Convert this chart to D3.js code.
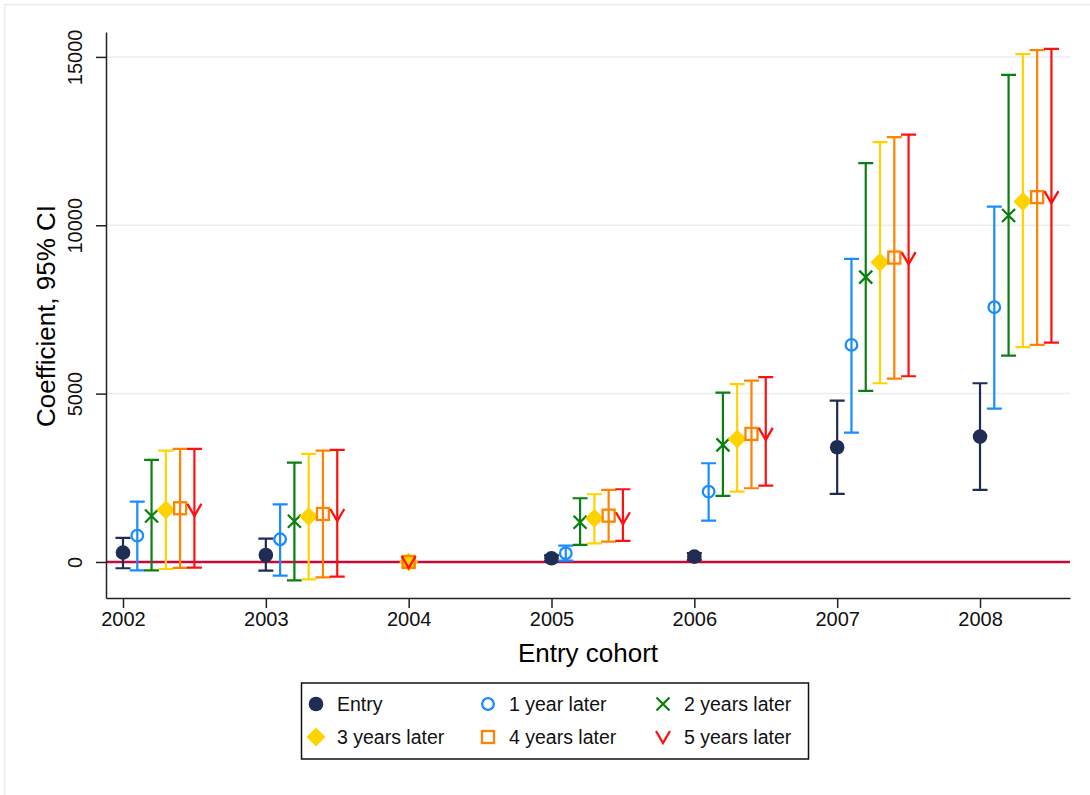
<!DOCTYPE html>
<html lang="en">
<head>
  <meta charset="UTF-8">
  <title>Entry cohort coefficients</title>
  <script src="https://d3js.org/d3.v7.min.js"></script>
  <style>
    body { margin: 0; background: white; }
    svg { font-family: "Liberation Sans", Arial, sans-serif; }
    .grid line { stroke: #e7eff1; stroke-width: 1.5px; }
    .axis path, .axis line { stroke: #222; stroke-width: 1.5px; }
    .axis text { fill: #111; font-size: 20px; font-family: "Liberation Sans", Arial, sans-serif; }
  </style>
</head>
<body>
  <svg width="1090" height="795"></svg>

  <script>
    // cohorts on the x axis
    var years = [2002, 2003, 2004, 2005, 2006, 2007, 2008];
    var baseYear = 2004;

    var seriesNames = ["Entry", "1 year later", "2 years later", "3 years later", "4 years later", "5 years later"];

    // point estimates and 95% CI
    var entryEst = [277, 208, 0, 109, 158, 3407, 3724];
    var entryLo  = [-187, -257, 0, 20, 60, 2020, 2139];
    var entryHi  = [713, 693, 0, 200, 260, 4793, 5308];

    var yr1Est = [782, 673, 0, 258, 2089, 6447, 7567];
    var yr1Lo  = [-247, -406, 0, 40, 1227, 3843, 4555];
    var yr1Hi  = [1792, 1713, 0, 485, 2932, 9002, 10556];

    var yr2Est = [1367, 1208, 0, 1179, 3476, 8458, 10289];
    var yr2Lo  = [-247, -545, 0, 505, 1961, 5080, 6129];
    var yr2Hi  = [3030, 2951, 0, 1892, 5030, 11845, 14469];

    var yr3Est = [1545, 1347, 0, 1298, 3654, 8904, 10705];
    var yr3Lo  = [-208, -515, 0, 555, 2089, 5308, 6379];
    var yr3Hi  = [3307, 3208, 0, 2011, 5280, 12469, 15083];

    var yr4Est = [1595, 1426, 0, 1376, 3803, 9041, 10835];
    var yr4Lo  = [-178, -455, 0, 604, 2190, 5447, 6447];
    var yr4Hi  = [3357, 3307, 0, 2139, 5386, 12618, 15202];

    var yr5Est = [1545, 1396, 0, 1298, 3803, 9023, 10835];
    var yr5Lo  = [-168, -435, 0, 624, 2267, 5516, 6515];
    var yr5Hi  = [3357, 3327, 0, 2160, 5487, 12695, 15241];

    var yTicks = [0, 5000, 10000, 15000];

    var colors = ["#1f2d54", "#1a8cff", "#0b8012", "#ffd300", "#ff8200", "#ff1010"];
    var shapes = ["dot", "circle", "x", "diamond", "square", "v"];
    var offsets = [0, 0.1, 0.2, 0.3, 0.4, 0.5];

    var series = [
      { est: entryEst, lo: entryLo, hi: entryHi },
      { est: yr1Est, lo: yr1Lo, hi: yr1Hi },
      { est: yr2Est, lo: yr2Lo, hi: yr2Hi },
      { est: yr3Est, lo: yr3Lo, hi: yr3Hi },
      { est: yr4Est, lo: yr4Lo, hi: yr4Hi },
      { est: yr5Est, lo: yr5Lo, hi: yr5Hi }
    ];

    var svg = d3.select("svg");

    // light outer frame of the graph region
    svg.append("rect")
      .attr("x", 4.5).attr("y", 4.5)
      .attr("width", 1100).attr("height", 800)
      .attr("fill", "white")
      .attr("stroke", "#e6edf0")
      .attr("stroke-width", 1.5);

    var plotLeft = 106, plotRight = 1070, plotTop = 32, plotBottom = 598;

    var x = d3.scaleLinear().domain([2001.881, 2008.63]).range([plotLeft, plotRight]);
    var y = d3.scaleLinear().domain([-1070, 15740]).range([plotBottom, plotTop]);

    // grid lines
    svg.append("g").attr("class", "grid")
      .selectAll("line")
      .data(yTicks.filter(function (d) { return d > 0; }))
      .enter().append("line")
      .attr("x1", plotLeft).attr("x2", plotRight)
      .attr("y1", function (d) { return y(d); })
      .attr("y2", function (d) { return y(d); });

    // zero reference line
    svg.append("line")
      .attr("x1", plotLeft).attr("x2", plotRight)
      .attr("y1", y(0)).attr("y2", y(0))
      .attr("stroke", "#c40a3a")
      .attr("stroke-width", 2.5);

    // axes
    var yAxis = svg.append("g").attr("class", "axis")
      .attr("transform", "translate(" + plotLeft + ",0)")
      .call(d3.axisLeft(y).tickValues(yTicks).tickFormat(d3.format("d")).tickSize(10).tickSizeOuter(0));
    yAxis.selectAll(".tick text")
      .attr("transform", "translate(-24,0) rotate(-90)")
      .attr("x", 0).attr("y", 0).attr("dy", 0)
      .attr("text-anchor", "middle");

    var xAxis = svg.append("g").attr("class", "axis")
      .attr("transform", "translate(0," + plotBottom + ")")
      .call(d3.axisBottom(x).tickValues(years).tickFormat(d3.format("d")).tickSize(10).tickSizeOuter(0));
    xAxis.selectAll("text").attr("y", 14).attr("dy", "0.71em");

    // axis titles
    svg.append("text")
      .attr("x", 588).attr("y", 662)
      .attr("text-anchor", "middle")
      .attr("font-size", 26)
      .text("Entry cohort");

    svg.append("text")
      .attr("transform", "translate(55,316) rotate(-90)")
      .attr("text-anchor", "middle")
      .attr("font-size", 26)
      .text("Coefficient, 95% CI");

    // marker drawing
    function drawMarker(g, shape, color, cx, cy) {
      if (shape === "dot") {
        g.append("circle").attr("cx", cx).attr("cy", cy).attr("r", 7.3).attr("fill", color);
      } else if (shape === "circle") {
        g.append("circle").attr("cx", cx).attr("cy", cy).attr("r", 5.8)
          .attr("fill", "none").attr("stroke", color).attr("stroke-width", 2.3);
      } else if (shape === "x") {
        var s = 6.5;
        g.append("path")
          .attr("d", "M" + (cx - s) + "," + (cy - s) + "L" + (cx + s) + "," + (cy + s) +
                     "M" + (cx - s) + "," + (cy + s) + "L" + (cx + s) + "," + (cy - s))
          .attr("stroke", color).attr("stroke-width", 2.3).attr("fill", "none");
      } else if (shape === "diamond") {
        var d = 9.5;
        g.append("path")
          .attr("d", "M" + cx + "," + (cy - d) + "L" + (cx + d) + "," + cy +
                     "L" + cx + "," + (cy + d) + "L" + (cx - d) + "," + cy + "Z")
          .attr("fill", color);
      } else if (shape === "square") {
        var h = 6;
        g.append("rect").attr("x", cx - h).attr("y", cy - h)
          .attr("width", 2 * h).attr("height", 2 * h)
          .attr("fill", "none").attr("stroke", color).attr("stroke-width", 2.3);
      } else if (shape === "v") {
        g.append("path")
          .attr("d", "M" + (cx - 7) + "," + (cy - 6) + "L" + cx + "," + (cy + 6) + "L" + (cx + 7) + "," + (cy - 6))
          .attr("stroke", color).attr("stroke-width", 2.3).attr("fill", "none");
      }
    }

    var marks = svg.append("g");
    var cap = 7.5;

    series.forEach(function (s, i) {
      var g = marks.append("g");
      years.forEach(function (yr, j) {
        var cx = x(yr === baseYear ? yr : yr + offsets[i]);
        if (s.hi[j] !== s.lo[j]) {
          var y1 = y(s.lo[j]), y2 = y(s.hi[j]);
          g.append("path")
            .attr("d", "M" + cx + "," + y1 + "L" + cx + "," + y2 +
                       "M" + (cx - cap) + "," + y1 + "L" + (cx + cap) + "," + y1 +
                       "M" + (cx - cap) + "," + y2 + "L" + (cx + cap) + "," + y2)
            .attr("stroke", colors[i]).attr("stroke-width", 2.2).attr("fill", "none");
        }
        drawMarker(g, shapes[i], colors[i], cx, y(s.est[j]));
      });
    });

    // legend
    var legend = svg.append("g");
    legend.append("rect")
      .attr("x", 301.5).attr("y", 683)
      .attr("width", 507).attr("height", 76)
      .attr("fill", "white").attr("stroke", "#111").attr("stroke-width", 1.5);

    var colX = [316, 488, 663];
    var rowY = [704, 737];
    seriesNames.forEach(function (name, i) {
      var cx = colX[i % 3], cy = rowY[Math.floor(i / 3)];
      drawMarker(legend, shapes[i], colors[i], cx, cy);
      legend.append("text")
        .attr("x", cx + 21).attr("y", cy + 7)
        .attr("font-size", 19.5)
        .attr("fill", "#111")
        .text(name);
    });
  </script>
</body>
</html>
